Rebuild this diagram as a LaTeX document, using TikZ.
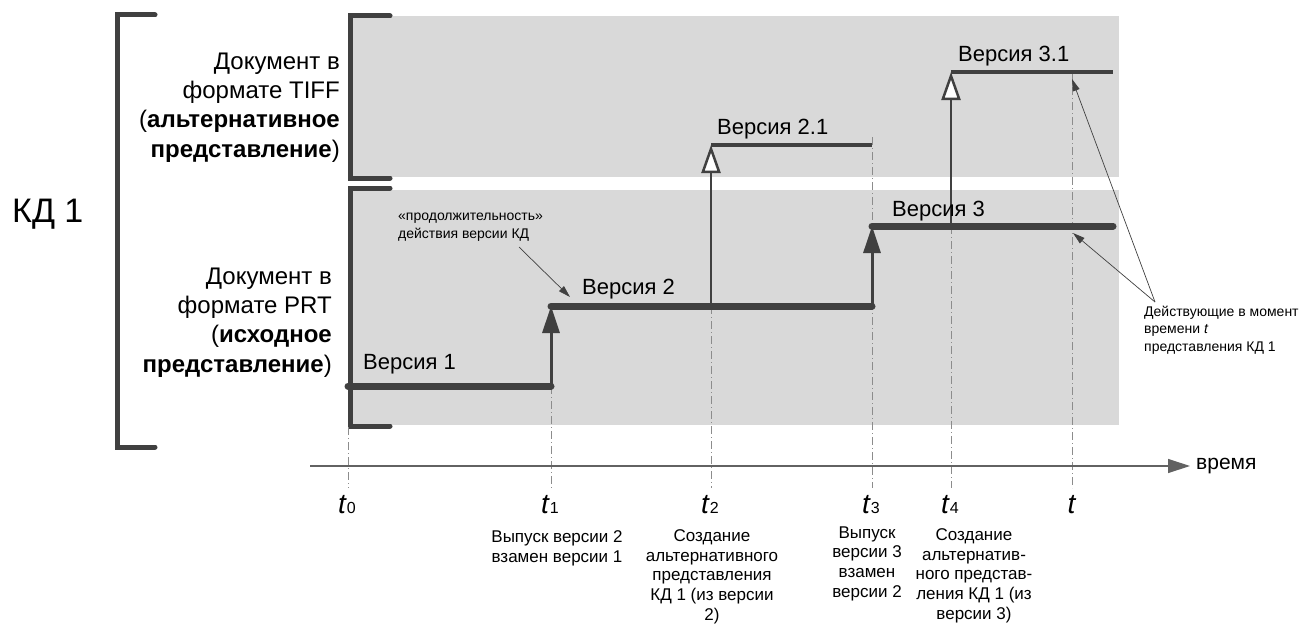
\documentclass[tikz,border=0pt]{standalone}
\usepackage{fontspec}
\setmainfont{Liberation Sans}
\usetikzlibrary{arrows.meta}
\definecolor{darkline}{HTML}{404040}
\definecolor{bandgray}{HTML}{D9D9D9}
\definecolor{dashgray}{HTML}{8C8C8C}
\newcommand{\tidx}[1]{{\fontsize{16}{16}\selectfont #1}}

\tikzset{
  brkt/.style={darkline, line width=5pt, line cap=round},
  verline/.style={darkline, line width=7pt, line cap=round},
  altline/.style={darkline, line width=4pt},
  relarrow/.style={darkline, line width=3pt, -{Triangle[length=27pt,width=17pt]}},
  altarrow/.style={darkline, line width=2.5pt, -{Triangle[length=28pt,width=19pt,fill=white]}},
  tdash/.style={dashgray, line width=0.8pt, dash pattern=on 8pt off 3pt on 1pt off 3pt},
  callout/.style={darkline, line width=0.7pt, -{Triangle[length=12pt,width=7pt]}},
  rowlbl/.style={inner sep=0pt, align=right, font=\fontsize{24}{29.3}\selectfont},
  verlbl/.style={inner sep=0pt, anchor=base west, font=\fontsize{22}{26}\selectfont},
  tlbl/.style={inner sep=0pt, anchor=base, font=\fontsize{28}{30}\selectfont},
  evlbl/.style={inner sep=0pt, anchor=base, align=center, font=\fontsize{17}{19.6}\selectfont},
  smalllbl/.style={inner sep=0pt, anchor=base west, align=left, font=\fontsize{14}{17.5}\selectfont}
}

\begin{document}
\begin{tikzpicture}[x=1pt, y=-1pt]
\useasboundingbox (0,0) rectangle (1303,626);

% bands
\fill[bandgray] (350,16) rectangle (1119,177);
\fill[bandgray] (350,190) rectangle (1119,425);

% brackets
\draw[brkt] (155,15) -- (117,15) -- (117,447) -- (155,447);
\draw[brkt] (390,16) -- (350,16) -- (350,178) -- (390,178);
\draw[brkt] (390,188) -- (350,188) -- (350,426) -- (390,426);

\node[anchor=base west, inner sep=0pt, font=\fontsize{34}{38}\selectfont] (kd) at (12,222) {КД 1};

% multi-line nodes sit on their last baseline
\node[rowlbl, anchor=base east] (tiff) at (340,157)
{Документ в\\формате TIFF\\(\textbf{альтернативное}\\\textbf{представление})};
\node[rowlbl, anchor=base east] (prt) at (332,372)
{Документ в\\формате PRT\\(\textbf{исходное}\\\textbf{представление})};

% dashed time marks
\foreach \x/\top in {348/427, 551/386, 711/306, 872/137, 951/226, 1072/72}
  \draw[tdash] (\x,\top) -- (\x,488);

% time axis
\coordinate (ax0) at (310,466);
\coordinate (ax1) at (1190,466);
\draw[dashgray!70!black, line width=1.2pt, -{Triangle[length=22pt,width=14pt]}] (ax0) -- (ax1);
\node[anchor=west, inner sep=0pt, font=\fontsize{21}{24}\selectfont] (vrem) at (1196,466) {время};

% versions
\coordinate (v1a) at (348,386);  \coordinate (v1b) at (551,386);
\coordinate (v2a) at (551,306);  \coordinate (v2b) at (872,306);
\coordinate (s2) at (711,306);
\coordinate (v21a) at (711,145); \coordinate (v21b) at (872,145);
\coordinate (v3a) at (872,226);  \coordinate (v3b) at (1113,226);
\coordinate (s4) at (951,226);
\coordinate (v31a) at (951,72);  \coordinate (v31b) at (1113,72);

\draw[relarrow] (v1b) -- (v2a);
\draw[relarrow] (v2b) -- (v3a);
\draw[altarrow] (s2) -- (v21a);
\draw[altarrow] (s4) -- (v31a);

\draw[verline] (v1a) -- (v1b);
\draw[verline] (v2a) -- (v2b);
\draw[verline] (v3a) -- (v3b);
\draw[altline] (v21a) -- (v21b);
\draw[altline] (v31a) -- (v31b);

\node[verlbl] (ver1) at (363,369) {Версия 1};
\node[verlbl] (ver2) at (582,294) {Версия 2};
\node[verlbl] (ver21) at (717,134) {Версия 2.1};
\node[verlbl] (ver3) at (892,216) {Версия 3};
\node[verlbl] (ver31) at (958,62) {Версия 3.1};

% time labels
\node[tlbl] (lt0) at (347,513) {\textit{t}\tidx{0}};
\node[tlbl] (lt1) at (550,513) {\textit{t}\tidx{1}};
\node[tlbl] (lt2) at (710,513) {\textit{t}\tidx{2}};
\node[tlbl] (lt3) at (871,513) {\textit{t}\tidx{3}};
\node[tlbl] (lt4) at (950,513) {\textit{t}\tidx{4}};
\node[tlbl] (lt) at (1072,513) {\textit{t}};

\node[evlbl] (ev1) at (557,562) {Выпуск версии 2\\взамен версии 1};
\node[evlbl] (ev2) at (712,620) {Создание\\альтернативного\\представления\\КД 1 (из версии\\2)};
\node[evlbl] (ev3) at (867,597) {Выпуск\\версии 3\\взамен\\версии 2};
\node[evlbl] (ev4) at (974,619) {Создание\\альтернатив-\\ного представ-\\ления КД 1 (из\\версии 3)};

% callouts
\node[smalllbl] (dur) at (398,238) {«продолжительность»\\действия версии КД};
\coordinate (durs) at (519,247);
\coordinate (durt) at (570,297);
\draw[callout] (durs) -- (durt);

\node[smalllbl] (act) at (1144,351) {Действующие в момент\\времени \textit{t}\\представления КД 1};
\coordinate (acts) at (1155,302);
\coordinate (actv3) at (1073,233);
\coordinate (actv31) at (1072,79);
\draw[callout] (acts) -- (actv3);
\draw[callout] (acts) -- (actv31);

\end{tikzpicture}
\end{document}
